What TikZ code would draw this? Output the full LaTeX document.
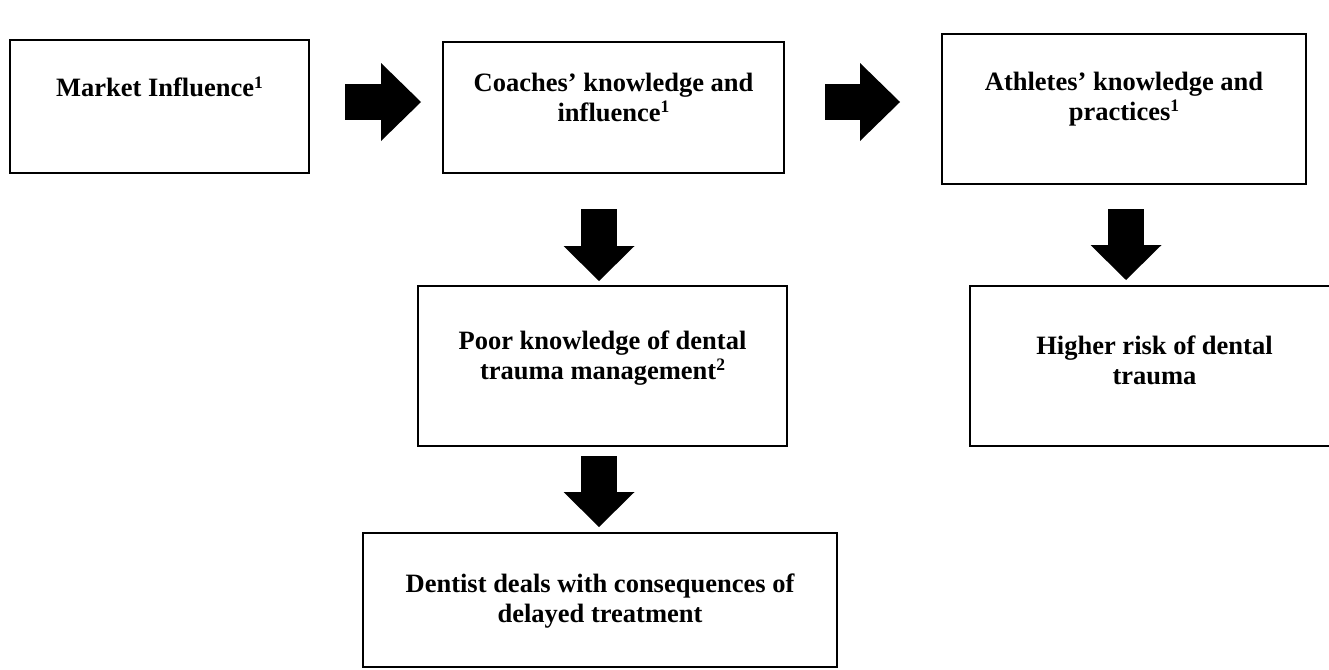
\documentclass[tikz,border=0pt]{standalone}
\usepackage{fontspec}
\setmainfont{Liberation Serif}
\usetikzlibrary{arrows.meta,positioning}
\newcommand{\sups}[1]{\raisebox{8.5pt}{\fontsize{17.5}{17.5}\selectfont #1}}
\tikzset{
	%Define style for boxes
	punkt/.style={
		rectangle,
		draw=black, line width=2.5pt,
		inner sep=0pt,
		outer sep=0pt},
	%Define style for box texts
	txt/.style={
		font=\fontsize{26.5}{29.5}\selectfont\bfseries,
		align=center,
		inner sep=0pt},
	% Define block arrow style
	pil/.style 2 args={
		line width=36pt,
		-{Triangle[length=#1 0 0, width=#2 0 0, line width=0pt 0 0]}}
}
\begin{document}
\begin{tikzpicture}
		\path[use as bounding box, fill=white] (0,0) rectangle (1329pt,-669pt);
		% node Market
		\node[punkt, minimum width=299pt, minimum height=133pt] (market) at (159.5pt,-106.5pt) {};
		% node Coaches
		\node[punkt, minimum width=341pt, minimum height=131pt, right=134pt of market, yshift=-1pt] (coaches) {};
		% node Athletes
		\node[punkt, minimum width=364pt, minimum height=150pt, right=158pt of coaches, yshift=-1.5pt] (athletes) {};
		% node Poor knowledge
		\node[punkt, minimum width=369pt, minimum height=160pt, below=113pt of coaches, xshift=-11pt] (poor) {};
		% node Higher risk
		\node[punkt, minimum width=369pt, minimum height=160pt, below=102pt of athletes, xshift=30.5pt] (risk) {};
		% node Dentist
		\node[punkt, minimum width=474pt, minimum height=134pt, below=87pt of poor, xshift=-2.5pt] (dentist) {};
		% texts
		\node[txt, below=36pt of market.north] (markettxt) {\strut Market Influence\sups{1}};
		\node[txt, below=29pt of coaches.north] (coachestxt) {\strut Coaches’ knowledge and\\influence\sups{1}};
		\node[txt, below=36pt of athletes.north] (athletestxt) {\strut Athletes’ knowledge and\\practices\sups{1}};
		\node[txt, below=43pt of poor.north] (poortxt) {\strut Poor knowledge of dental\\trauma management\sups{2}};
		\node[txt, below=48pt of risk.north] (risktxt) {\strut Higher risk of dental\\trauma};
		\node[txt, below=39pt of dentist.north] (dentisttxt) {\strut Dentist deals with consequences of\\delayed treatment};
		% block arrows
		\draw[pil={40pt}{78pt}, shorten <=36pt, shorten >=22pt] ([yshift=4.5pt]market.east) -- ([yshift=5.5pt]coaches.west);
		\draw[pil={40pt}{78pt}, shorten <=41pt, shorten >=42pt] ([yshift=5.5pt]coaches.east) -- ([yshift=7pt]athletes.west);
		\draw[pil={35pt}{71pt}, shorten <=36pt, shorten >=5pt] ([xshift=-14.5pt]coaches.south) -- ([xshift=-3.5pt]poor.north);
		\draw[pil={35pt}{71pt}, shorten <=25pt, shorten >=6pt] ([xshift=2pt]athletes.south) -- ([xshift=-28.5pt]risk.north);
		\draw[pil={35pt}{71pt}, shorten <=10pt, shorten >=6pt] ([xshift=-3.5pt]poor.south) -- ([xshift=-1pt]dentist.north);
	\end{tikzpicture}
\end{document}
